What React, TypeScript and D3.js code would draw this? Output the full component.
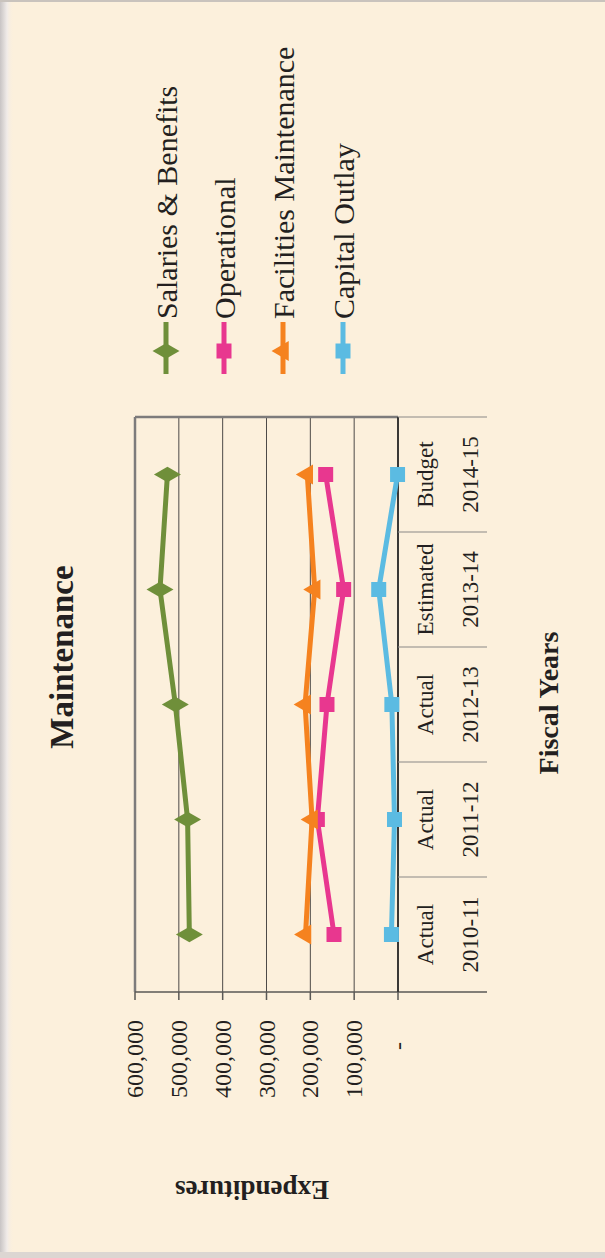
import React from "react";
import * as d3 from "d3";

// chart values
const years = ["2010-11", "2011-12", "2012-13", "2013-14", "2014-15"];
const yearTypes = ["Actual", "Actual", "Actual", "Estimated", "Budget"];
const salaries = [476000, 480000, 508000, 543000, 526000];
const operational = [146000, 184000, 162000, 124000, 165000];
const facilities = [211000, 196000, 212000, 190000, 207000];
const capital = [15000, 8000, 14000, 44000, 1000];
const seriesNames = ["Salaries & Benefits", "Operational", "Facilities Maintenance", "Capital Outlay"];
const seriesColors = ["#6f8f3a", "#e8378f", "#f5821f", "#5bbbe2"];
const seriesMarkers = ["diamond", "square", "triangle", "square"];
const yTicks = [0, 100000, 200000, 300000, 400000, 500000, 600000];

const W = 1258; // chart drawn landscape, then turned
const font = "'Liberation Serif', 'Times New Roman', serif";

const Marker = ({ kind, x, y, color }: { kind: string; x: number; y: number; color: string }) => {
  if (kind === "diamond") {
    const p = d3.symbol(d3.symbolDiamond, 210)();
    return <path d={p!} transform={`translate(${x},${y})`} fill={color} />;
  }
  if (kind === "triangle") {
    const p = d3.symbol(d3.symbolTriangle, 170)();
    return <path d={p!} transform={`translate(${x},${y})`} fill={color} />;
  }
  return <rect x={x - 7.5} y={y - 7.5} width={15} height={15} fill={color} />;
};

export default function App() {
  const allSeries = [salaries, operational, facilities, capital];

  const x = d3.scaleBand<string>().domain(years).range([266, 841]);
  const y = d3.scaleLinear().domain([0, 600000]).range([398, 135]);
  const fmt = d3.format(",");

  const line = d3
    .line<number>()
    .x((_, i) => x(years[i])! + x.bandwidth() / 2)
    .y((d) => y(d));

  const legendY = [166, 224, 283, 343];

  return (
    <svg
      width={605}
      height={1258}
      style={{ position: "absolute", left: 0, top: 0, background: "#fcf0dc" }}
    >
      <defs>
        <linearGradient id="edge" x1="0" x2="1" y1="0" y2="0">
          <stop offset="0" stopColor="#c8c4c4" />
          <stop offset="0.5" stopColor="#f0ebe8" />
          <stop offset="1" stopColor="#fcf0dc" stopOpacity={0} />
        </linearGradient>
      </defs>
      <rect x={0} y={0} width={605} height={1258} fill="#fcf0dc" />
      <rect x={0} y={0} width={14} height={1258} fill="url(#edge)" />
      <rect x={0} y={0} width={605} height={2} fill="#c9c3bd" />
      <rect x={0} y={1252} width={605} height={6} fill="#dcd6d2" />

      <g transform={`translate(0,${W}) rotate(-90)`} fontFamily={font} fill="#231f20">
        {/* title */}
        <text x={601} y={62} textAnchor="middle" dominantBaseline="central" fontSize={33} fontWeight="bold">
          Maintenance
        </text>

        {/* gridlines */}
        {yTicks.slice(1, -1).map((t) => (
          <line key={t} x1={266} x2={841} y1={y(t)} y2={y(t)} stroke="#4d4a48" strokeWidth={1} />
        ))}
        {/* plot border */}
        <line x1={266} x2={841} y1={y(600000)} y2={y(600000)} stroke="#7d7b7b" strokeWidth={2.5} />
        <line x1={841} x2={841} y1={y(600000)} y2={y(0)} stroke="#7d7b7b" strokeWidth={2.5} />

        {/* value axis */}
        <line x1={266} x2={266} y1={y(600000)} y2={487} stroke="#5a5856" strokeWidth={1.5} />
        {yTicks.map((t) => (
          <g key={t}>
            <line x1={258} x2={266} y1={y(t)} y2={y(t)} stroke="#5a5856" strokeWidth={1.5} />
            <text
              x={238}
              dx={t === 0 ? -22 : 0}
              y={y(t)}
              textAnchor="end"
              dominantBaseline="central"
              fontSize={24}
            >
              {t === 0 ? "-" : fmt(t)}
            </text>
          </g>
        ))}
        <text
          transform={`translate(68,252) rotate(-90)`}
          textAnchor="middle"
          dominantBaseline="central"
          fontSize={27}
          fontWeight="bold"
        >
          Expenditures
        </text>

        {/* category axis */}
        <line x1={266} x2={841} y1={y(0)} y2={y(0)} stroke="#3a3836" strokeWidth={2} />
        <line x1={841} x2={841} y1={y(0)} y2={487} stroke="#8a8886" strokeWidth={1} />
        {years.map((yr, i) => (
          <g key={yr}>
            {i > 0 && (
              <line x1={x(yr)} x2={x(yr)} y1={y(0)} y2={487} stroke="#8a8886" strokeWidth={1} />
            )}
            <text
              x={x(yr)! + x.bandwidth() / 2}
              y={425}
              textAnchor="middle"
              dominantBaseline="central"
              fontSize={23}
            >
              {yearTypes[i]}
            </text>
            <text
              x={x(yr)! + x.bandwidth() / 2}
              y={470}
              textAnchor="middle"
              dominantBaseline="central"
              fontSize={23}
            >
              {yr}
            </text>
          </g>
        ))}
        <text x={555} y={548} textAnchor="middle" dominantBaseline="central" fontSize={28} fontWeight="bold">
          Fiscal Years
        </text>

        {/* series */}
        {allSeries.map((vals, s) => (
          <g key={seriesNames[s]}>
            <path d={line(vals)!} fill="none" stroke={seriesColors[s]} strokeWidth={5} strokeLinejoin="round" />
            {vals.map((v, i) => (
              <Marker
                key={i}
                kind={seriesMarkers[s]}
                x={x(years[i])! + x.bandwidth() / 2}
                y={y(v)}
                color={seriesColors[s]}
              />
            ))}
          </g>
        ))}

        {/* legend */}
        {seriesNames.map((name, s) => (
          <g key={name}>
            <line x1={884} x2={936} y1={legendY[s]} y2={legendY[s]} stroke={seriesColors[s]} strokeWidth={5} />
            <Marker kind={seriesMarkers[s]} x={907} y={legendY[s]} color={seriesColors[s]} />
            <text x={939} y={legendY[s]} dominantBaseline="central" fontSize={30}>
              {name}
            </text>
          </g>
        ))}
      </g>
    </svg>
  );
}
